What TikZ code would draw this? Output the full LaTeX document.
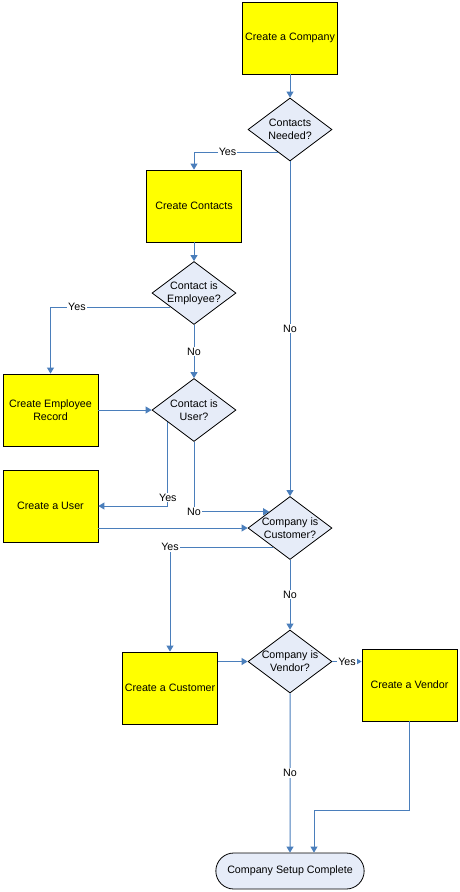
\documentclass[tikz,border=0pt]{standalone}
\usepackage{fontspec}
\setmainfont{Liberation Sans}
\usetikzlibrary{shapes.geometric,shapes.misc,arrows.meta}

\definecolor{flowblue}{RGB}{74,126,187}
\definecolor{boxyellow}{RGB}{255,255,0}
\definecolor{decfill}{RGB}{230,236,248}

\begin{document}
\begin{tikzpicture}[x=1pt,y=-1pt,
    font=\fontsize{10.7}{13}\selectfont,
    process/.style={draw=black, line width=0.8pt, fill=boxyellow, minimum width=\boxw, minimum height=\boxh, inner sep=0pt, align=center},
    decision/.style={diamond, draw=black, line width=0.8pt, fill=decfill, minimum width=\decw, minimum height=\dech, inner sep=0pt},
    terminal/.style={rounded rectangle, draw=black, line width=0.8pt, fill=decfill, minimum width=155pt, minimum height=36pt},
    flow/.style={draw=flowblue, line width=1pt, -{Triangle[length=6pt,width=7pt]}},
    answer/.style={fill=white, inner sep=1pt}]

% Define the size of the shapes
\def\boxw{95pt} % box width
\def\boxh{72pt} % box height
\def\decw{84pt} % diamond width
\def\dech{63pt} % diamond height

\useasboundingbox (0,0) rectangle (460,892);

% Draw the boxes
\node[process] (comp) at (290,38) {Create a Company};
\node[process] (cc) at (194,206) {Create Contacts};
\node[process] (emp) at (50.5,410) {Create Employee\\Record};
\node[process] (usr) at (50.5,506) {Create a User};
\node[process] (cuso) at (170,688) {Create a Customer};
\node[process] (vend) at (409.5,685) {Create a Vendor};

% Draw the decisions
\node[decision, label={[align=center]center:Contacts\\Needed?}] (cn) at (290,129.5) {};
\node[decision, label={[align=center]center:Contact is\\Employee?}] (ce) at (194,293) {};
\node[decision, label={[align=center]center:Contact is\\User?}] (cu) at (194,410) {};
\node[decision, label={[align=center]center:Company is\\Customer?}] (cust) at (290,528) {};
\node[decision, label={[align=center]center:Company is\\Vendor?}] (ven) at (290,661.5) {};

\node[terminal] (done) at (290,871) {Company Setup Complete};

\coordinate (bend) at (314,810);

% Draw the flow
\draw[flow] (comp) -- (cn);
\draw[flow] (cn.242) -| node[answer, pos=0.3] {Yes} (cc);
\draw[flow] (cc) -- (ce);
\draw[flow] (ce.211) -| node[answer, pos=0.39] {Yes} (emp);
\draw[flow] (ce) -- node[answer] {No} (cu);
\draw[flow] (emp) -- (cu);
\draw[flow] (cu.205) |- node[answer, pos=0.45] {Yes} (usr);
\draw[flow] (cu.south) |- node[answer] {No} (cust.142);
\draw[flow] (usr.east |- cust) -- (cust);
\draw[flow] (cn) -- node[answer] {No} (cust);
\draw[flow] (cust.229) -| node[answer] {Yes} (cuso);
\draw[flow] (cust) -- node[answer] {No} (ven);
\draw[flow] (cuso.east |- ven) -- (ven);
\draw[flow] (ven.east) -- node[answer] {Yes} (ven.east -| vend.west);
\draw[flow] (ven) -- node[answer] {No} (done);
\draw[flow] (vend.south) |- (bend) -- (bend |- done.north);

\end{tikzpicture}
\end{document}
